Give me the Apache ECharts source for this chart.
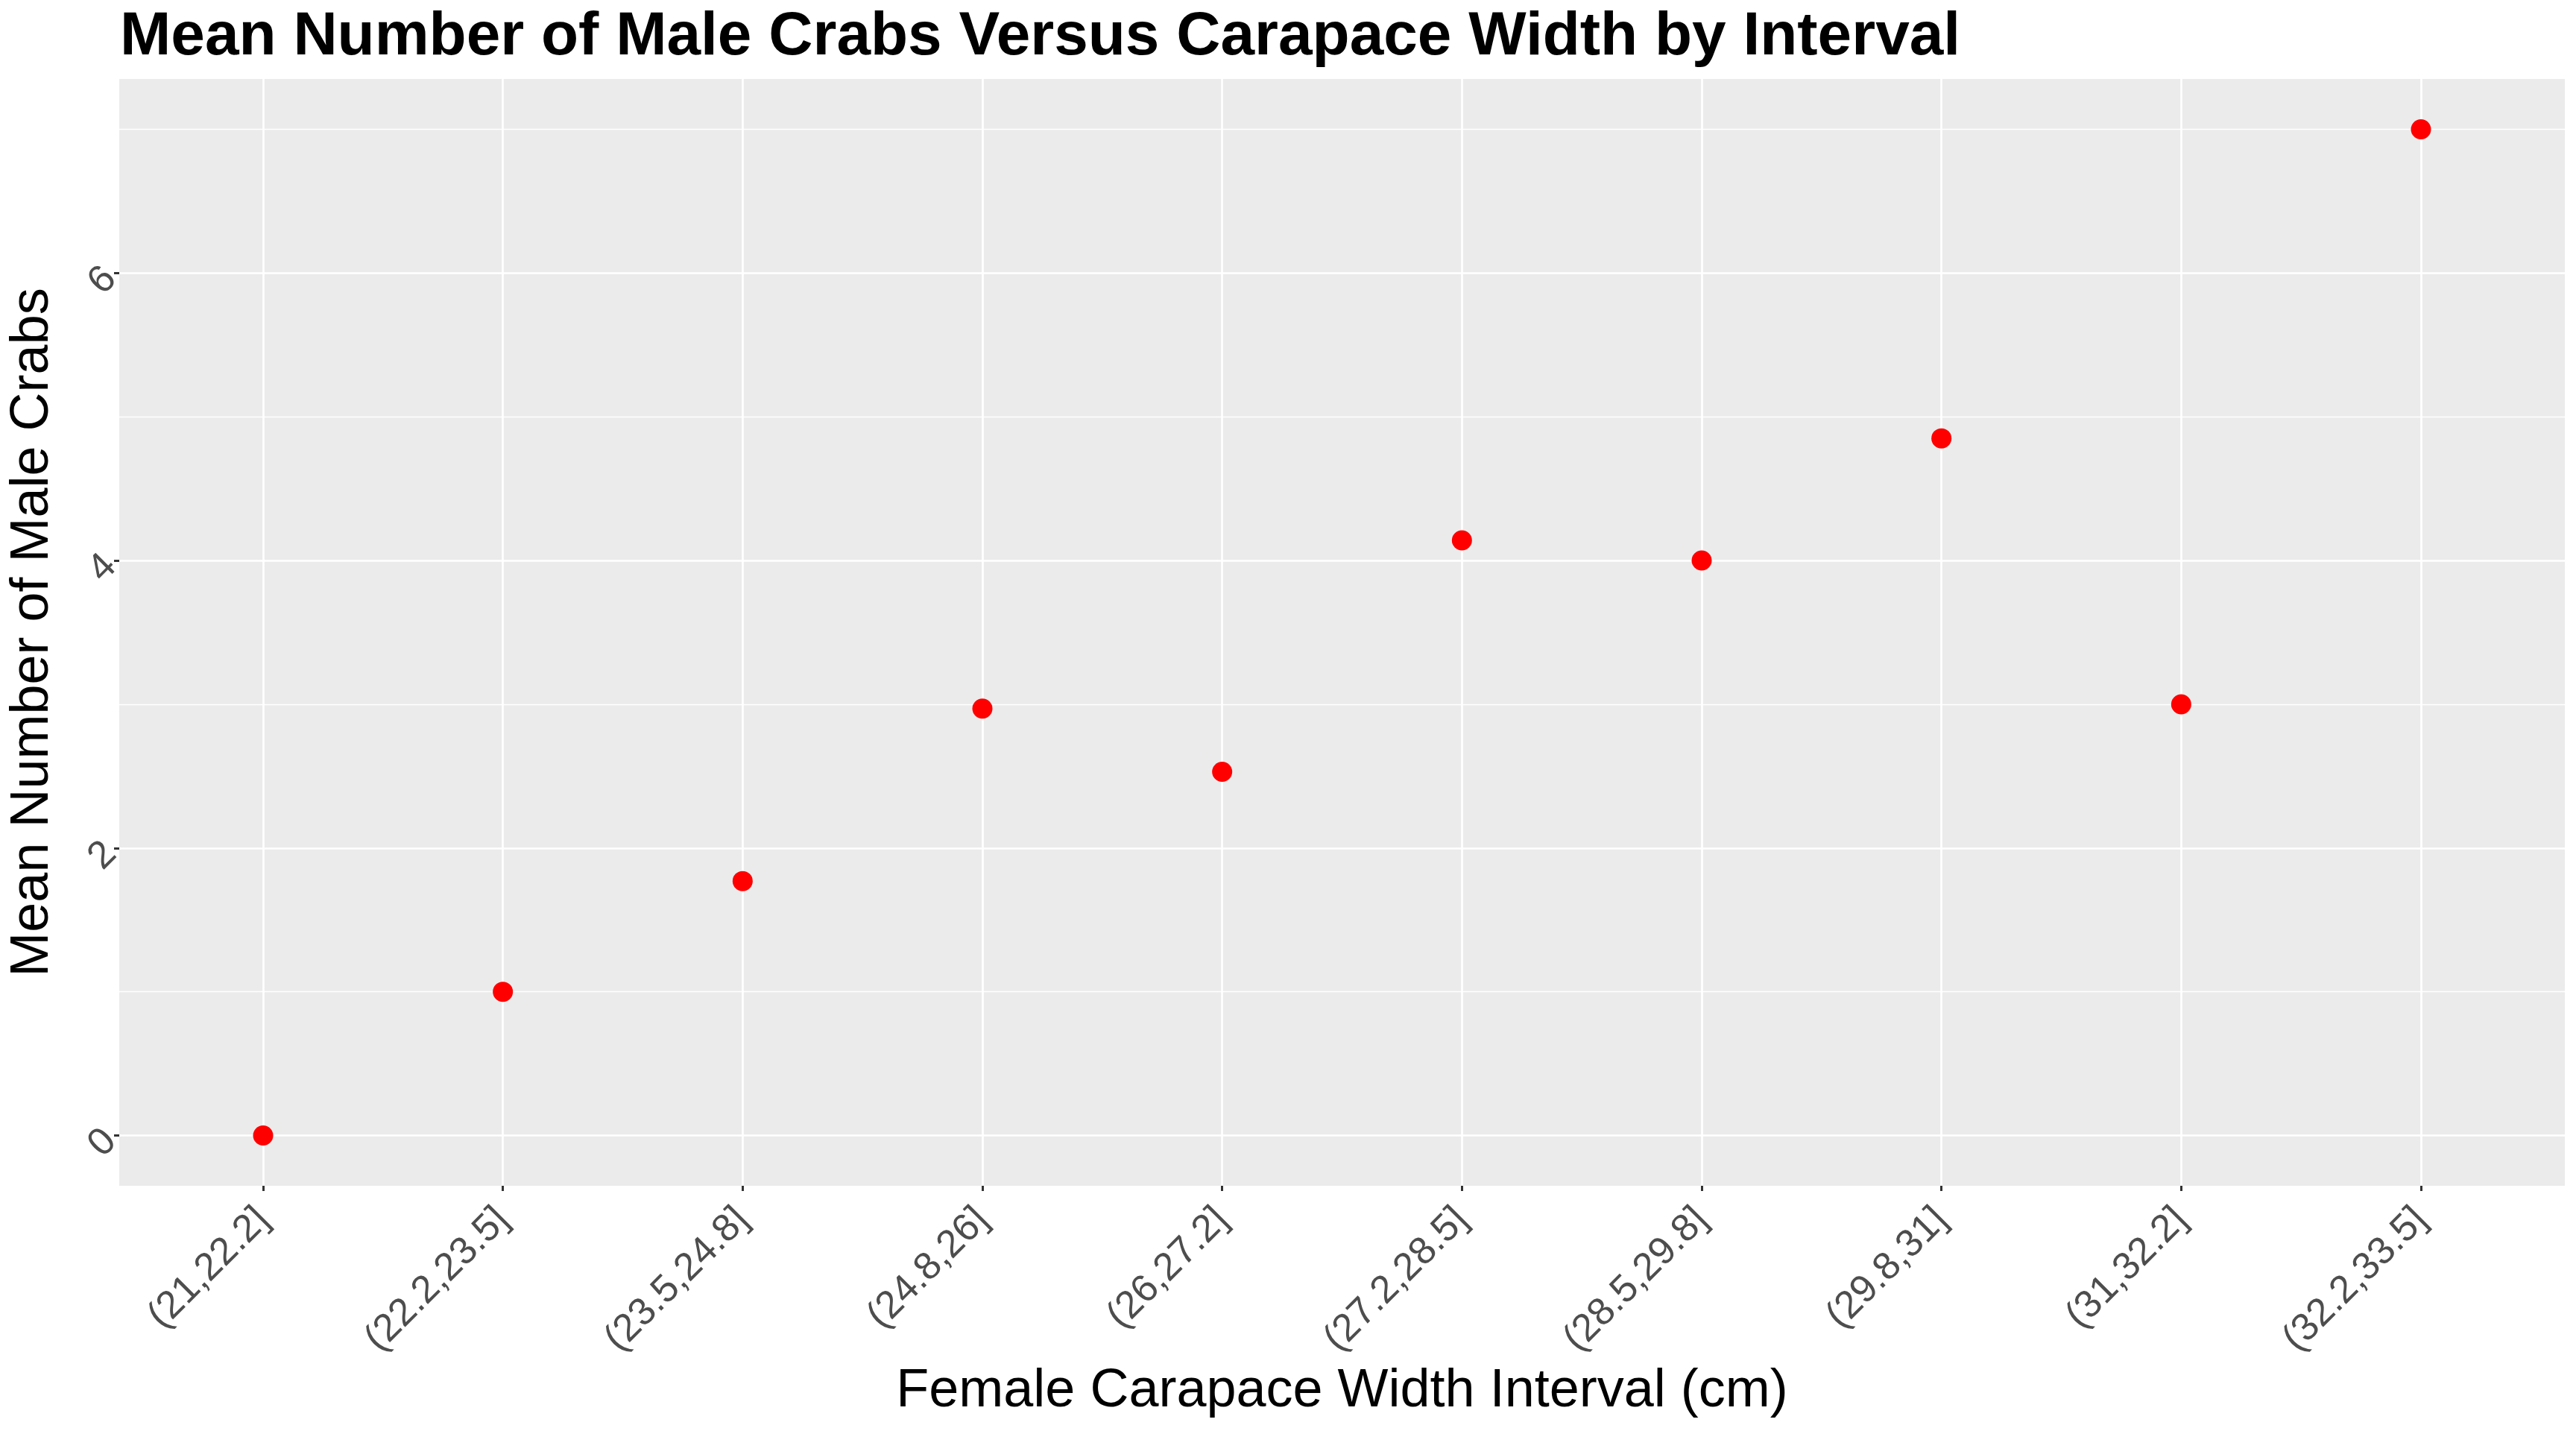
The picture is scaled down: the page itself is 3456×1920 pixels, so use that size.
<!DOCTYPE html>
<html>
<head>
<meta charset="utf-8">
<script src="https://cdn.jsdelivr.net/npm/echarts@6.0.0/dist/echarts.min.js"></script>
<style>
    html, body { margin: 0; padding: 0; background: #fff; }
    #chart { width: 3456px; height: 1920px; }
</style>
</head>
<body>
<div id="chart"></div>
<script>
var categories = ['(21,22.2]', '(22.2,23.5]', '(23.5,24.8]', '(24.8,26]', '(26,27.2]',
    '(27.2,28.5]', '(28.5,29.8]', '(29.8,31]', '(31,32.2]', '(32.2,33.5]'];
var meanMales = [0, 1, 1.77, 2.97, 2.53, 4.14, 4, 4.85, 3, 7];
var yMajorTicks = [0, 2, 4, 6];
var yMinorTicks = [1, 3, 5, 7];

var fontFamily = 'Liberation Sans, Arial, Helvetica, sans-serif';

var xPositions = [];
var points = [];
for (var i = 0; i < categories.length; i++) {
    xPositions.push(i + 1);
    points.push([i + 1, meanMales[i]]);
}

var myChart = echarts.init(document.getElementById('chart'));

var option = {
    backgroundColor: '#ffffff',
    animation: false,
    title: {
        text: 'Mean Number of Male Crabs Versus Carapace Width by Interval',
        left: 156,
        top: 4,
        textStyle: {
            fontFamily: fontFamily,
            fontSize: 82,
            fontWeight: 'bold',
            color: '#000'
        }
    },
    grid: {
        left: 160,
        right: 15,
        top: 106,
        bottom: 329,
        show: true,
        backgroundColor: '#EBEBEB',
        borderWidth: 0
    },
    xAxis: {
        type: 'value',
        min: 0.4,
        max: 10.6,
        name: 'Female Carapace Width Interval (cm)',
        nameLocation: 'middle',
        nameGap: 240,
        nameMoveOverlap: false,
        nameTextStyle: {
            fontFamily: fontFamily,
            fontSize: 72,
            color: '#000'
        },
        axisLine: { show: false, onZero: false },
        axisTick: {
            show: true,
            length: 7,
            customValues: xPositions,
            lineStyle: { color: '#333333', width: 3 }
        },
        axisLabel: {
            customValues: xPositions,
            rotate: 45,
            margin: 38,
            fontFamily: fontFamily,
            fontSize: 52,
            color: '#4D4D4D',
            formatter: function (v) {
                return categories[Math.round(v) - 1];
            }
        },
        splitLine: {
            show: true,
            lineStyle: { color: '#ffffff', width: 2.7 }
        }
    },
    yAxis: [{
        type: 'value',
        min: -0.35,
        max: 7.35,
        name: 'Mean Number of Male Crabs',
        nameLocation: 'middle',
        nameGap: 80,
        nameMoveOverlap: false,
        nameTextStyle: {
            fontFamily: fontFamily,
            fontSize: 72,
            color: '#000'
        },
        axisLine: { show: false, onZero: false },
        axisTick: {
            show: true,
            length: 7,
            customValues: yMajorTicks,
            lineStyle: { color: '#333333', width: 3 }
        },
        axisLabel: {
            customValues: yMajorTicks,
            rotate: 45,
            margin: 12,
            fontFamily: fontFamily,
            fontSize: 52,
            color: '#4D4D4D'
        },
        splitLine: {
            show: true,
            lineStyle: { color: '#ffffff', width: 2.7 }
        }
    }, {
        type: 'value',
        min: -0.35,
        max: 7.35,
        position: 'left',
        axisLine: { show: false, onZero: false },
        axisTick: { show: false, customValues: yMinorTicks },
        axisLabel: { show: false, customValues: yMinorTicks },
        splitLine: {
            show: true,
            lineStyle: { color: '#ffffff', width: 1.35 }
        }
    }],
    series: [{
        type: 'scatter',
        data: points,
        symbol: 'circle',
        symbolSize: 27,
        itemStyle: { color: '#FF0000', opacity: 1 },
        z: 5
    }]
};

myChart.setOption(option);
</script>
</body>
</html>
